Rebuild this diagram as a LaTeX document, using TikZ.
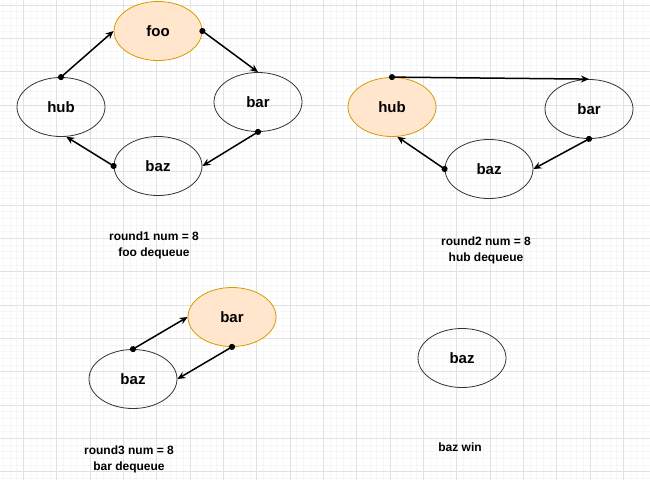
\documentclass[tikz,border=0pt]{standalone}
\usepackage{fontspec}
\setmainfont{Liberation Sans}
\usetikzlibrary{shapes.geometric,arrows.meta}
\definecolor{qfill}{HTML}{FFE6CC}
\definecolor{qline}{HTML}{D79B00}
\definecolor{gridmajor}{HTML}{E2E2E2}
\definecolor{gridminor}{HTML}{F6F6F6}

\begin{document}
\begin{tikzpicture}[x=1pt, y=-1pt,
    item/.style={ellipse, draw=black!80, line width=0.8pt, minimum width=88pt, minimum height=59pt, inner sep=0pt, font=\fontsize{15}{17}\selectfont\bfseries},
    dequeued/.style={item, fill=qfill, draw=qline},
    link/.style={line width=1.5pt, {Circle[length=6pt]}-{Stealth[length=8pt,width=7pt]}, shorten <=-3pt},
    caption/.style={align=center, inner sep=0pt, font=\fontsize{12}{16}\selectfont\bfseries}
  ]
  \useasboundingbox (0,0) rectangle (650,480);
  \fill[white] (0,0) rectangle (650,480);
  \foreach \i in {0,...,97} \draw[gridminor, line width=0.5pt] (3.333+6.667*\i,0) -- ++(0,480);
  \foreach \i in {0,...,71} \draw[gridminor, line width=0.5pt] (0,5+6.667*\i) -- ++(650,0);
  \foreach \i in {0,...,18} \draw[gridmajor, line width=0.6pt] (23.333+33.333*\i,0) -- ++(0,480);
  \foreach \i in {0,...,14} \draw[gridmajor, line width=0.6pt] (0,5+33.333*\i) -- ++(650,0);

  \node[dequeued] (foo1) at (158,31) {foo};
  \node[item] (hub1) at (61,107) {hub};
  \node[item] (bar1) at (258,102) {bar};
  \node[item] (baz1) at (158,166) {baz};
  \draw[link] (hub1.north) -- (foo1.west);
  \draw[link] (foo1.east) -- (bar1.north);
  \draw[link] (bar1.south) -- (baz1.east);
  \draw[link] (baz1.west) -- (hub1.-80);
  \node[caption] (cap1) at (154,245) {round1 num = 8\\foo dequeue};

  \node[dequeued] (hub2) at (392,107) {hub};
  \node[item] (bar2) at (589,109) {bar};
  \node[item] (baz2) at (489,169) {baz};
  \draw[link] (hub2.north) -- (bar2.north);
  \draw[link] (bar2.south) -- (baz2.east);
  \draw[link] (baz2.west) -- (hub2.-80);
  \node[caption] (cap2) at (486,250) {round2 num = 8\\hub dequeue};

  \node[dequeued] (bar3) at (232,317) {bar};
  \node[item] (baz3) at (133,379) {baz};
  \draw[link] (baz3.north) -- (bar3.west);
  \draw[link] (bar3.south) -- (baz3.east);
  \node[caption] (cap3) at (129,459) {round3 num = 8\\bar dequeue};

  \node[item] (baz4) at (462,358) {baz};
  \node[caption] (cap4) at (460,447) {baz win};
\end{tikzpicture}
\end{document}
